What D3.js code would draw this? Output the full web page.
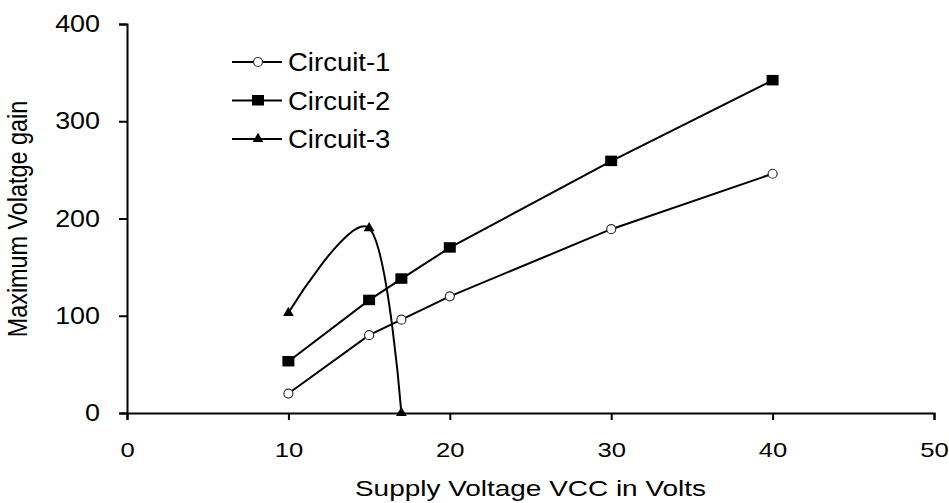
<!DOCTYPE html>
<meta charset="utf-8">
<script src="https://d3js.org/d3.v7.min.js"></script>
<style>
  body { margin: 0; background: #fff; }
  svg text { font-family: "Liberation Sans", Arial, sans-serif; fill: #000; }
</style>
<body>
<svg id="chart" width="949" height="503"></svg>
<script>
// data
var xTicks = [0, 10, 20, 30, 40, 50];
var yTicks = [0, 100, 200, 300, 400];
var circuit1 = [[10, 20], [15, 80], [17, 96], [20, 120], [30, 189], [40, 246]];
var circuit2 = [[10, 53], [15, 116], [17, 138], [20, 170], [30, 259], [40, 342]];
var circuit3 = [[10, 103], [15, 190], [17, 0]];
var names = ["Circuit-1", "Circuit-2", "Circuit-3"];

var svg = d3.select("#chart");
var x = d3.scaleLinear().domain([0, 50]).range([127, 934]);
var y = d3.scaleLinear().domain([0, 400]).range([413, 24]);

// the reference text looks a bit wide, stretch it horizontally
function stretch(sel, k) {
  sel.each(function () {
    var w = this.getComputedTextLength();
    d3.select(this).attr("textLength", w * k).attr("lengthAdjust", "spacingAndGlyphs");
  });
}

// axes
var xAxis = svg.append("g")
  .attr("transform", "translate(0," + y(0) + ")")
  .call(d3.axisBottom(x).tickValues(xTicks).tickSize(7).tickSizeOuter(7).tickPadding(22));
var yAxis = svg.append("g")
  .attr("transform", "translate(" + x(0) + ",0)")
  .call(d3.axisLeft(y).tickValues(yTicks).tickSize(8).tickSizeOuter(8).tickPadding(19));
[xAxis, yAxis].forEach(function (a) {
  a.attr("font-family", null);
  a.selectAll("path, line").attr("stroke", "#000").attr("stroke-width", 2);
});
xAxis.selectAll("text").style("font-size", "21px").call(stretch, 1.22);
yAxis.selectAll("text").style("font-size", "24px").call(stretch, 1.12);

svg.append("text")
  .attr("x", (x(0) + x(50)) / 2).attr("y", 496)
  .attr("text-anchor", "middle").style("font-size", "22px")
  .text("Supply Voltage VCC in Volts")
  .call(stretch, 1.27);
svg.append("text")
  .attr("transform", "translate(27,219) scale(1.15,1) rotate(-90)")
  .attr("text-anchor", "middle").style("font-size", "23.4px")
  .text("Maximum Volatge gain");

var straight = d3.line().x(d => x(d[0])).y(d => y(d[1]));
var smooth = d3.line().x(d => x(d[0])).y(d => y(d[1])).curve(d3.curveCatmullRom.alpha(0));

function drawMarker(g, type, cx, cy) {
  if (type == 0) {
    g.append("circle").attr("cx", cx).attr("cy", cy).attr("r", 4.5)
      .attr("fill", "#fff").attr("stroke", "#333").attr("stroke-width", 1.2);
  } else if (type == 1) {
    g.append("rect").attr("x", cx - 6).attr("y", cy - 5.5).attr("width", 12).attr("height", 10.5)
      .attr("fill", "#000");
  } else {
    g.append("path").attr("d", d3.symbol(d3.symbolTriangle, 50)())
      .attr("transform", "translate(" + cx + "," + cy + ")").attr("fill", "#000");
  }
}

var series = [circuit1, circuit2, circuit3];
series.forEach(function (s, i) {
  svg.append("path").datum(s)
    .attr("d", i == 2 ? smooth : straight)
    .attr("fill", "none").attr("stroke", "#000").attr("stroke-width", 2);
  var g = svg.append("g");
  s.forEach(function (d) { drawMarker(g, i, x(d[0]), y(d[1])); });
});

// legend
var leg = svg.append("g");
names.forEach(function (n, i) {
  var ly = 62 + i * 38.5;
  leg.append("line").attr("x1", 232).attr("x2", 282).attr("y1", ly).attr("y2", ly)
    .attr("stroke", "#000").attr("stroke-width", 2);
  drawMarker(leg, i, 258, ly);
  leg.append("text").attr("x", 288).attr("y", ly + 9).style("font-size", "25px")
    .text(n).call(stretch, 1.1);
});
</script>
</body>
